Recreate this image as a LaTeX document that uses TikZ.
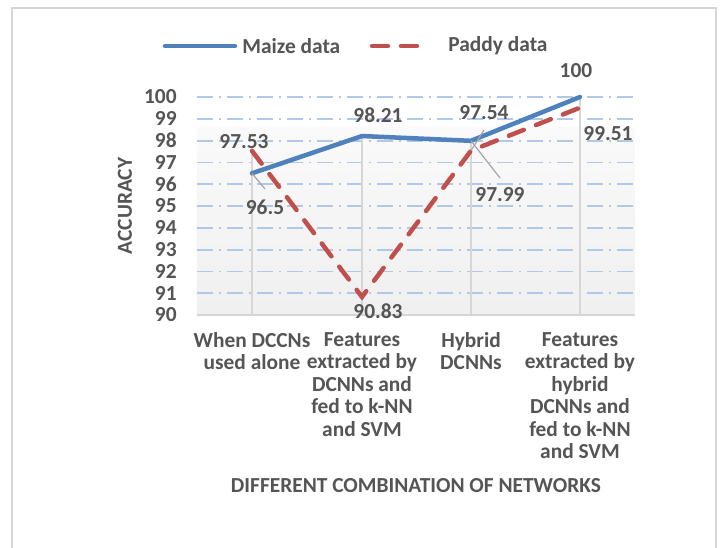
\documentclass[tikz,border=0pt]{standalone}
\usepackage{fontspec}
\setmainfont{Carlito}
\usepackage{tikz}
\usetikzlibrary{positioning}
\newcommand\ybase{315}
\newcommand\ystep{21.8}
\newcommand\xleft{197}
\newcommand\xright{635}
\newcommand\vy[1]{\ybase-(#1-90)*\ystep}
\definecolor{maize}{RGB}{79,129,189}
\definecolor{paddy}{RGB}{192,80,77}
\definecolor{txt}{RGB}{85,85,85}
\definecolor{gridblue}{RGB}{178,200,230}
\definecolor{framegray}{RGB}{214,214,214}
\tikzset{lbl/.style={font=\bfseries\fontsize{10.7}{11.25}\selectfont, text=txt, inner sep=0pt},
         catlbl/.style={lbl, align=center, anchor=north},
         gridline/.style={draw=gridblue, line width=0.9pt, dash pattern=on 8pt off 3pt on 1pt off 3pt},
         dropline/.style={draw=framegray, line width=0.8pt},
         leader/.style={draw=black!35, line width=0.6pt},
         maizeline/.style={draw=maize, line width=2.25pt, line cap=round, line join=round},
         paddyline/.style={draw=paddy, line width=2.25pt, line cap=round, dash pattern=on 8pt off 6.5pt}}

\begin{document}
\begin{tikzpicture}[x=0.5pt, y=-0.5pt]
    \useasboundingbox (0,0) rectangle (720,548);
    \fill[white] (0,0) rectangle (720,548);
    \draw[framegray, line width=1pt] (12,548) -- (12,8) -- (716,8) -- (716,548);
    \shade[top color=black!2, bottom color=black!6] (\xleft,127) rectangle (\xright,\ybase);

    % grid and axis
    \foreach \v in {91,...,100}{\draw[gridline] (\xleft,{\vy{\v}}) -- (\xright,{\vy{\v}});}
    \foreach \v in {90,...,100}{\node[lbl, anchor=east] (tick\v) at (177,{\vy{\v}}) {\v};}
    \coordinate (axl) at (\xleft,\ybase);
    \coordinate (axr) at (\xright,\ybase);
    \draw[dropline] (axl) -- (axr);

    % data points
    \foreach \i/\x/\m/\p in {1/252/96.5/97.53, 2/362/98.21/90.83, 3/471/97.99/97.54, 4/580/100/99.51}{
        \coordinate (m\i) at (\x,{\vy{\m}});
        \coordinate (p\i) at (\x,{\vy{\p}});
        \coordinate (b\i) at (\x,\ybase);
    }
    \draw[dropline] (p1) -- (b1);
    \draw[dropline] (m2) -- (b2);
    \draw[dropline] (m3) -- (b3);
    \draw[dropline] (m4) -- (b4);

    \draw[maizeline] (m1) -- (m2) -- (m3) -- (m4);
    \draw[paddyline] (p1) -- (p2) -- (p3) -- (p4);

    % data labels
    \node[lbl] (lp1) at (244,142) {97.53};
    \node[lbl] (lm1) at (265,207) {96.5};
    \node[lbl] (lm2) at (378,115) {98.21};
    \node[lbl] (lp2) at (378,311) {90.83};
    \node[lbl] (lp3) at (484,113) {97.54};
    \node[lbl] (lm3) at (500,195) {97.99};
    \node[lbl] (lp4) at (608,134) {99.51};
    \node[lbl] (lm4) at (576,71) {100};
    \coordinate (e1) at (265,189);
    \coordinate (e2) at (484,130);
    \coordinate (e3) at (500,178);
    \draw[leader] (m1) -- (e1);
    \draw[leader] (p3) -- (e2);
    \draw[leader] (m3) -- (e3);

    % legend
    \coordinate (ma) at (165,46);
    \coordinate (mb) at (235,46);
    \coordinate (pa) at (372,46);
    \coordinate (pb) at (423,46);
    \draw[maizeline] (ma) -- (mb);
    \draw[paddyline] (pa) -- (pb);
    \node[lbl, anchor=west] (legm) at (242,46) {Maize data};
    \node[lbl, anchor=west] (legp) at (448,46) {Paddy data};

    % axis titles and categories
    \node[lbl, rotate=90] (ytitle) at (125,206) {ACCURACY};
    \node[catlbl] (c1) at (252,332) {When DCCNs\\used alone};
    \node[catlbl] (c2) at (362,332) {Features\\extracted by\\DCNNs and\\fed to k-NN\\and SVM};
    \node[catlbl] (c3) at (471,332) {Hybrid\\DCNNs};
    \node[catlbl] (c4) at (580,332) {Features\\extracted by\\hybrid\\DCNNs and\\fed to k-NN\\and SVM};
    \node[lbl] (xtitle) at (416,486) {DIFFERENT COMBINATION OF NETWORKS};
\end{tikzpicture}
\end{document}
